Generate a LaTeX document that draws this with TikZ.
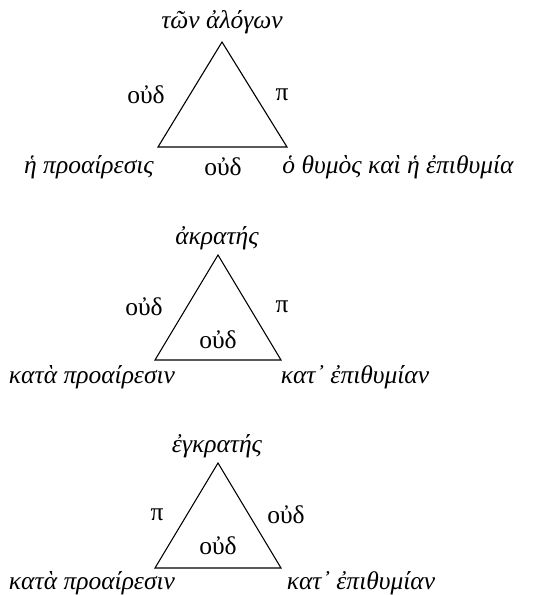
\documentclass[tikz,border=0pt]{standalone}
\usepackage{fontspec}
\setmainfont{Liberation Serif}
\begin{document}
\begin{tikzpicture}[x=1pt,y=-1pt,
  lbl/.style={inner sep=0pt,font=\fontsize{25.5}{29}\selectfont},
  ilbl/.style={lbl,font=\fontsize{25.5}{29}\selectfont\itshape},
  tri/.style={draw,line width=1.1pt,line join=miter}]
\useasboundingbox (0,0) rectangle (533,595);
% triangle 1
\coordinate (a1) at (222,42);
\coordinate (b1) at (158,147);
\coordinate (c1) at (287,147);
\draw[tri] (a1) -- (b1) -- (c1) -- cycle;
\node[ilbl] (t1) at (222,22) {τῶν ἀλόγων};
\node[lbl] (l1) at (146,95) {οὐδ};
\node[lbl] (r1) at (282,95) {π};
\node[ilbl] (bl1) at (89,167) {ἡ προαίρεσις};
\node[lbl] (bm1) at (223,167) {οὐδ};
\node[ilbl] (br1) at (398,167) {ὁ θυμὸς καὶ ἡ ἐπιθυμία};
% triangle 2
\coordinate (a2) at (218,255);
\coordinate (b2) at (155,360);
\coordinate (c2) at (281,360);
\draw[tri] (a2) -- (b2) -- (c2) -- cycle;
\node[ilbl] (t2) at (217,238) {ἀκρατής};
\node[lbl] (l2) at (144,307) {οὐδ};
\node[lbl] (r2) at (282,307) {π};
\node[lbl] (m2) at (218,340) {οὐδ};
\node[ilbl] (bl2) at (92,377) {κατὰ προαίρεσιν};
\node[ilbl] (br2) at (355,377) {κατ᾽ ἐπιθυμίαν};
% triangle 3
\coordinate (a3) at (218,463);
\coordinate (b3) at (155,568);
\coordinate (c3) at (281,568);
\draw[tri] (a3) -- (b3) -- (c3) -- cycle;
\node[ilbl] (t3) at (217,446) {ἐγκρατής};
\node[lbl] (l3) at (157,515) {π};
\node[lbl] (r3) at (286,515) {οὐδ};
\node[lbl] (m3) at (218,546) {οὐδ};
\node[ilbl] (bl3) at (92,583) {κατὰ προαίρεσιν};
\node[ilbl] (br3) at (361,583) {κατ᾽ ἐπιθυμίαν};
\end{tikzpicture}
\end{document}
